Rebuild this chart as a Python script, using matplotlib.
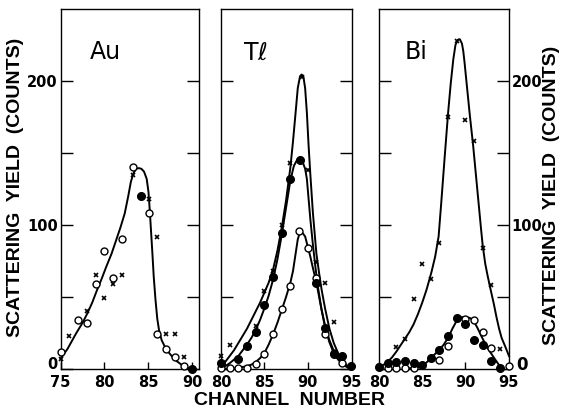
import matplotlib.pyplot as plt

# ---- Au panel ----
au_open_ch = [75, 77, 78, 79, 80, 81, 82, 83.2, 85.1, 86, 87, 88, 89]
au_open_y = [12, 34, 32, 59, 82, 63, 90, 140, 108, 24, 14, 8.5, 2]
au_cross_ch = [75, 76, 78, 79, 80, 81, 82, 83.2, 85.1, 86, 87, 88, 89]
au_cross_y = [7, 23, 40, 65, 49.5, 59, 65, 135, 118, 92, 24.5, 24.5, 8.5]
au_full_ch = [84.2, 90]
au_full_y = [120, 0]
au_curve_ch = [75.0, 75.8, 76.8, 77.5, 78.0, 78.6, 79.1, 79.7, 80.2, 80.8,
               81.3, 81.8, 82.3, 82.7, 83.0, 83.3, 83.6, 83.9, 84.2, 84.5,
               84.8, 85.0, 85.15, 85.3, 85.45, 85.6, 85.8, 86.0, 86.2, 86.5,
               86.9, 87.3, 87.7, 88.2, 88.8, 89.3, 89.8]
au_curve_y = [7, 14, 25, 32, 38, 46, 54, 63, 71, 80, 89, 98, 108, 120, 130,
              136, 139, 139.5, 139, 137, 132, 123, 110, 95, 80, 64, 48, 35,
              27, 20, 15, 11.5, 8.6, 5.5, 2.8, 1.2, 0]

# ---- Tl panel ----
tl_cross_ch = [80, 81, 84, 85, 86, 87, 88, 89.3, 90, 91, 92, 93]
tl_cross_y = [9, 17, 30, 54.5, 68, 100, 143, 203, 138, 74.6, 59.6, 32.4]
tl_full_ch = [80, 82, 83, 84, 85, 86, 87, 88, 89.1, 91, 92, 93, 94, 95]
tl_full_y = [4, 6.6, 16.3, 26, 44.6, 63.8, 94.3, 132, 145, 60, 28.5, 10.7,
             8.9, 2]
tl_open_ch = [80, 81, 82, 83, 84, 85, 86, 87, 88, 89, 90, 91, 92, 93, 94]
tl_open_y = [1, 0.5, 1, 0.8, 3.8, 10.7, 24.4, 41.7, 57.8, 95.8, 84, 63, 24.4,
             11, 4]
tl_top_ch = [80, 80.5, 81, 81.5, 82, 82.5, 83, 83.5, 84, 84.5, 85, 85.5, 86,
             86.5, 87, 87.5, 88, 88.3, 88.6, 88.85, 89.1, 89.3, 89.5, 89.7,
             89.9, 90.1, 90.3, 90.6, 91.0, 91.3, 91.6, 92, 92.5, 93, 93.5,
             94, 94.5, 95]
tl_top_y = [2, 5, 9, 13, 18, 23, 28, 34, 40, 46, 53, 60, 69, 82, 98, 117,
            140, 158, 178, 195, 203, 204.5, 203, 195, 178, 155, 135, 108, 80,
            67, 55, 42, 28, 18, 11, 6, 2.5, 0.5]
tl_mid_ch = [80, 80.5, 81, 81.5, 82, 82.5, 83, 83.5, 84, 84.5, 85, 85.5, 86,
             86.5, 87, 87.5, 88, 88.4, 88.8, 89.1, 89.4, 89.7, 89.9, 90.1,
             90.3, 90.6, 90.9, 91.2, 91.6, 92, 92.5, 93, 93.5, 94, 94.5, 95]
tl_mid_y = [0, 2, 4, 6.5, 9, 13, 17, 21.5, 27, 34, 42, 51, 62, 76, 93, 112,
            131, 141, 145.5, 146, 144, 139, 132, 118, 104, 86, 70, 56, 41, 30,
            20, 12.5, 7, 3.5, 1.5, 0]
tl_low_ch = [80.5, 81, 82, 83, 83.5, 84, 84.5, 85, 85.5, 86, 86.5, 87, 87.5,
             88, 88.3, 88.6, 88.85, 89.1, 89.4, 89.7, 90.0, 90.3, 90.6, 91,
             91.5, 92, 92.5, 93, 93.5, 94, 94.5, 95]
tl_low_y = [0, 0.3, 0.8, 2, 3, 4.8, 7.5, 11, 17, 24, 32, 41, 50, 60, 68, 80,
            90, 95, 94.5, 92, 85, 78, 70, 60, 44, 29, 18.5, 11, 6.5, 3.5, 1.5,
            0]

# ---- Bi panel ----
bi_cross_ch = [80, 82, 83, 84, 85, 86, 87, 88, 89, 90, 91, 92, 93, 94]
bi_cross_y = [2, 15, 21, 48.5, 72.6, 62.5, 87.6, 175, 228, 173, 158, 84,
              58, 14]
bi_full_ch = [80, 81, 82, 83, 84, 85, 86, 87, 88, 89, 90, 91, 92, 93, 94]
bi_full_y = [1.5, 4, 5, 5.4, 4.5, 3, 7.8, 13, 22.6, 35.2, 31.5, 20.3, 17,
             5.4, 1]
bi_open_ch = [81, 82, 83, 84, 87, 88, 90, 91, 92, 93, 95]
bi_open_y = [0.5, 1, 0.5, 0.5, 6.3, 15.8, 34.7, 34.2, 26, 14.7, 2]
bi_top_ch = [80, 80.5, 81, 81.5, 82, 82.5, 83, 83.5, 84, 84.5, 85, 85.5,
             86.06, 86.5, 86.9, 87.2, 87.6, 88.0, 88.3, 88.6, 88.85, 89.1,
             89.35, 89.6, 89.75, 89.9, 90.2, 90.5, 90.9, 91.2, 91.5, 91.8,
             92.0, 92.3, 92.6, 93.0, 93.3, 93.6, 93.9, 94.2, 94.6, 95.05]
bi_top_y = [1, 2.8, 5, 8, 12, 16.5, 21, 25.5, 31, 38, 46, 55, 67, 78, 92,
            115, 147, 178, 198, 215, 225, 228.5, 229, 226, 221, 213, 195, 177,
            155, 136, 117, 98, 86, 73, 64, 53, 45, 36, 28, 21.5, 15.8, 9]
bi_low_ch = [83.5, 84.3, 84.9, 85.5, 86.06, 86.5, 87.03, 87.5, 88.0, 88.5,
             89.07, 89.5, 90.0, 90.5, 90.9, 91.4, 91.85, 92.3, 92.8, 93.4,
             93.98, 94.25]
bi_low_y = [0.5, 1, 2, 4.5, 7.8, 10.5, 13.5, 17, 21.7, 28, 34.4, 36, 36,
            35.5, 34, 28.5, 22.8, 17.5, 12.4, 7, 2, 0]

y_ticks = [0, 100, 200]
y_ticklabels = ['', '100', '200']

plt.rcParams['font.family'] = 'DejaVu Sans'
LABFONT = 'Liberation Sans'


def frame(ax, xlim, xticks):
    ax.set_xlim(*xlim)
    ax.set_ylim(0, 250)
    ax.set_xticks(xticks)
    ax.set_yticks(y_ticks)
    ax.set_yticklabels(y_ticklabels)
    ax.set_yticks([50, 150], minor=True)
    ax.tick_params(axis='y', which='both', direction='in', length=8.5,
                   width=1.0, left=True, right=True, labelleft=False,
                   labelright=False, labelsize=10.5, pad=2)
    ax.tick_params(axis='x', direction='in', length=5, width=1.0,
                   labelsize=10.5, pad=4, top=False)
    for s in ax.spines.values():
        s.set_linewidth(1.0)


def bold_labels(ax):
    for lab in ax.get_xticklabels() + ax.get_yticklabels():
        lab.set_fontweight('bold')


def pts(ax, ch, y, kind):
    if kind == 'open':
        ax.plot(ch, y, 'o', ms=5, mfc='white', mec='black', mew=1.0,
                ls='none', clip_on=False, zorder=4)
    elif kind == 'full':
        ax.plot(ch, y, 'o', ms=5.5, mfc='black', mec='black', ls='none',
                clip_on=False, zorder=4)
    else:
        ax.plot(ch, y, 'x', ms=3.5, mec='black', mew=1.2, ls='none',
                clip_on=False, zorder=4)


def curve(ax, ch, y):
    ax.plot(ch, y, '-', color='black', lw=1.4, zorder=3,
            solid_joinstyle='round', clip_on=False)


fig = plt.figure(figsize=(5.64, 4.12), dpi=100)
ax1 = fig.add_axes([0.1073, 0.1044, 0.2456, 0.8738])
ax2 = fig.add_axes([0.3918, 0.1044, 0.2323, 0.8738])
ax3 = fig.add_axes([0.672, 0.1044, 0.2305, 0.8738])

frame(ax1, (75, 90.75), [75, 80, 85, 90])
ax1.tick_params(axis='y', labelleft=True)
bold_labels(ax1)
ax1.annotate('0', xy=(0, 0), xycoords='axes fraction', xytext=(-2.5, 3),
             textcoords='offset points', ha='right', va='center',
             fontsize=10.5, fontweight='bold')
curve(ax1, au_curve_ch, au_curve_y)
pts(ax1, au_open_ch, au_open_y, 'open')
pts(ax1, au_cross_ch, au_cross_y, 'cross')
pts(ax1, au_full_ch, au_full_y, 'full')
ax1.text(0.21, 0.86, 'Au', transform=ax1.transAxes, fontsize=17)

frame(ax2, (80, 95.1), [80, 85, 90, 95])
bold_labels(ax2)
curve(ax2, tl_top_ch, tl_top_y)
curve(ax2, tl_mid_ch, tl_mid_y)
curve(ax2, tl_low_ch, tl_low_y)
pts(ax2, tl_open_ch, tl_open_y, 'open')
pts(ax2, tl_full_ch, tl_full_y, 'full')
pts(ax2, tl_cross_ch, tl_cross_y, 'cross')
ax2.text(0.17, 0.86, 'T$\\ell$', transform=ax2.transAxes, fontsize=17)

frame(ax3, (80, 95.05), [80, 85, 90, 95])
ax3.tick_params(axis='y', labelright=True)
bold_labels(ax3)
ax3.annotate('0', xy=(1, 0), xycoords='axes fraction', xytext=(5, 3),
             textcoords='offset points', ha='left', va='center',
             fontsize=12, fontweight='bold')
curve(ax3, bi_top_ch, bi_top_y)
curve(ax3, bi_low_ch, bi_low_y)
pts(ax3, bi_open_ch, bi_open_y, 'open')
pts(ax3, bi_full_ch, bi_full_y, 'full')
pts(ax3, bi_cross_ch, bi_cross_y, 'cross')
ax3.text(0.2, 0.86, 'Bi', transform=ax3.transAxes, fontsize=17)

ylab = 'SCATTERING  YIELD  (COUNTS)'
fig.text(0.028, 0.545, ylab, rotation=90, ha='center', va='center',
         fontsize=14, fontweight='bold', family=LABFONT)
fig.text(0.977, 0.525, ylab, rotation=90, ha='center', va='center',
         fontsize=14, fontweight='bold', family=LABFONT)
fig.text(0.514, 0.027, 'CHANNEL  NUMBER', ha='center', va='center',
         fontsize=14, fontweight='bold', family=LABFONT)

fig.savefig('out.png', dpi=100)
